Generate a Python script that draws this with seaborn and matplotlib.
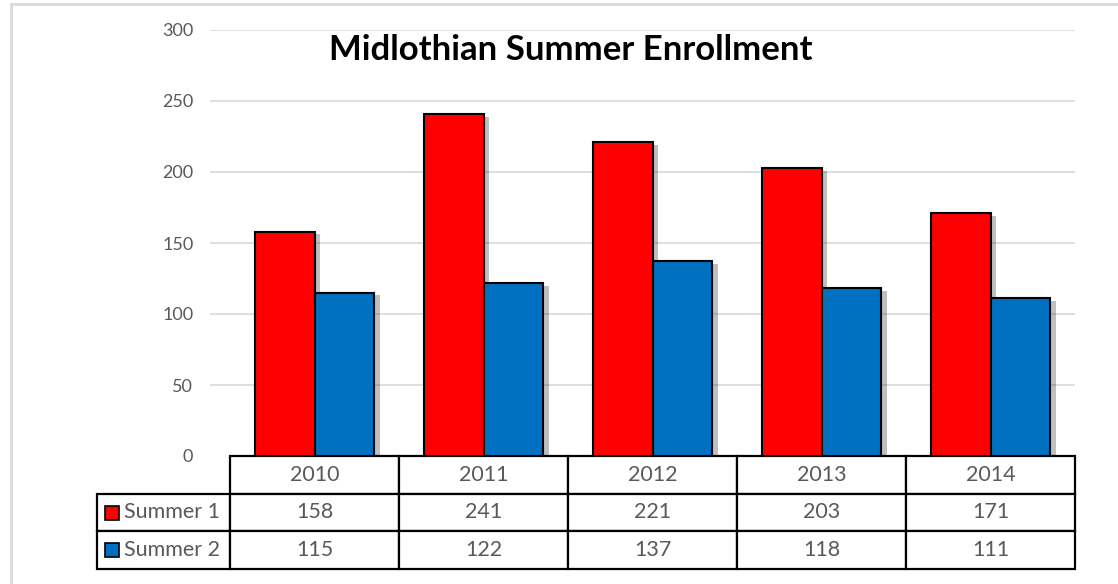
import pandas as pd
import matplotlib
matplotlib.use("Agg")
import matplotlib.pyplot as plt
import matplotlib.patheffects as pe
from matplotlib.patches import Rectangle
import seaborn as sns

# chart data
years = ["2010", "2011", "2012", "2013", "2014"]
summer1 = [158, 241, 221, 203, 171]
summer2 = [115, 122, 137, 118, 111]
series_names = ["Summer 1", "Summer 2"]
colors = ["#FF0000", "#0070C0"]
yticks = [0, 50, 100, 150, 200, 250, 300]

df = pd.DataFrame({
    "year": years * 2,
    "value": summer1 + summer2,
    "session": [series_names[0]] * len(years) + [series_names[1]] * len(years),
})

sns.set_theme(style="white")
plt.rcParams["font.family"] = ["Lato", "DejaVu Sans"]

W, H = 1118, 584
fig = plt.figure(figsize=(W / 100, H / 100), dpi=100)

# plot area in pixels (from top-left)
ax_l, ax_r, ax_t, ax_b = 210, 1075, 30, 456
cat_l = 230  # where the category columns start
ax = fig.add_axes([ax_l / W, 1 - ax_b / H, (ax_r - ax_l) / W, (ax_b - ax_t) / H])

sns.barplot(data=df, x="year", y="value", hue="session", palette=colors, saturation=1,
            width=0.71, edgecolor="black", linewidth=1.5, ax=ax, legend=False)

shadow = [pe.SimplePatchShadow(offset=(4, -2), shadow_rgbFace="black", alpha=0.25), pe.Normal()]
for bar in ax.patches:
    bar.set_path_effects(shadow)

n = len(years)
unit = (ax_r - cat_l) / n
ax.set_xlim(-0.5 - (cat_l - ax_l) / unit, n - 0.5)
ax.set_ylim(0, 300)
ax.set_yticks(yticks)
ax.set_xticks([])
ax.set_xlabel("")
ax.set_ylabel("")
ax.tick_params(axis="y", length=0, pad=12, labelsize=13, labelcolor="#595959")
ax.yaxis.grid(True, color="#D9D9D9", linewidth=1.2)
ax.set_axisbelow(True)
ax.get_ygridlines()[0].set_visible(False)
for s in ax.spines.values():
    s.set_visible(False)


def px_x(px):
    return (px - ax_l) / (ax_r - ax_l)


def px_y(py):
    return (ax_b - py) / (ax_b - ax_t)


# data table under the plot
tab_l, tab_b = 97, 569
label_w = cat_l - tab_l
cell_text = [[""] + years,
             [series_names[0]] + [str(v) for v in summer1],
             [series_names[1]] + [str(v) for v in summer2]]
col_w = [label_w] + [unit] * n
tot_w = sum(col_w)
tab = ax.table(cellText=cell_text, colWidths=[c / tot_w for c in col_w],
               cellLoc="center",
               bbox=[px_x(tab_l), px_y(tab_b), px_x(ax_r) - px_x(tab_l), px_y(ax_b) - px_y(tab_b)])
tab.auto_set_font_size(False)
tab.set_fontsize(15.5)
for (r, c), cell in tab.get_celld().items():
    cell.set_edgecolor("black")
    cell.set_linewidth(1.6)
    cell.get_text().set_color("#595959")
    if r == 0 and c == 0:
        cell.visible_edges = "open"
    if c == 0 and r > 0:
        cell.get_text().set_ha("left")
        cell._loc = "left"
        cell.PAD = (124 - tab_l) / label_w

# legend keys inside the label cells
row_h = (tab_b - ax_b) / 3
for i, col in enumerate(colors):
    cy = ax_b + row_h * (i + 1.5)
    sq = 14
    ax.add_patch(Rectangle((px_x(105), px_y(cy + sq / 2)), px_x(105 + sq) - px_x(105),
                           px_y(cy - sq / 2) - px_y(cy + sq / 2), transform=ax.transAxes,
                           facecolor=col, edgecolor="black", linewidth=1.2, clip_on=False))

fig.text(571 / W, 1 - 50 / H, "Midlothian Summer Enrollment", ha="center", va="center",
         fontsize=25, fontweight="bold", color="black")

# light chart-area border
fig.add_artist(Rectangle((11 / W, -0.1), 1.2, 1 - 4 / H + 0.1, transform=fig.transFigure,
                         fill=False, edgecolor="#D9D9D9", linewidth=2))

fig.savefig("out.png", dpi=100)
